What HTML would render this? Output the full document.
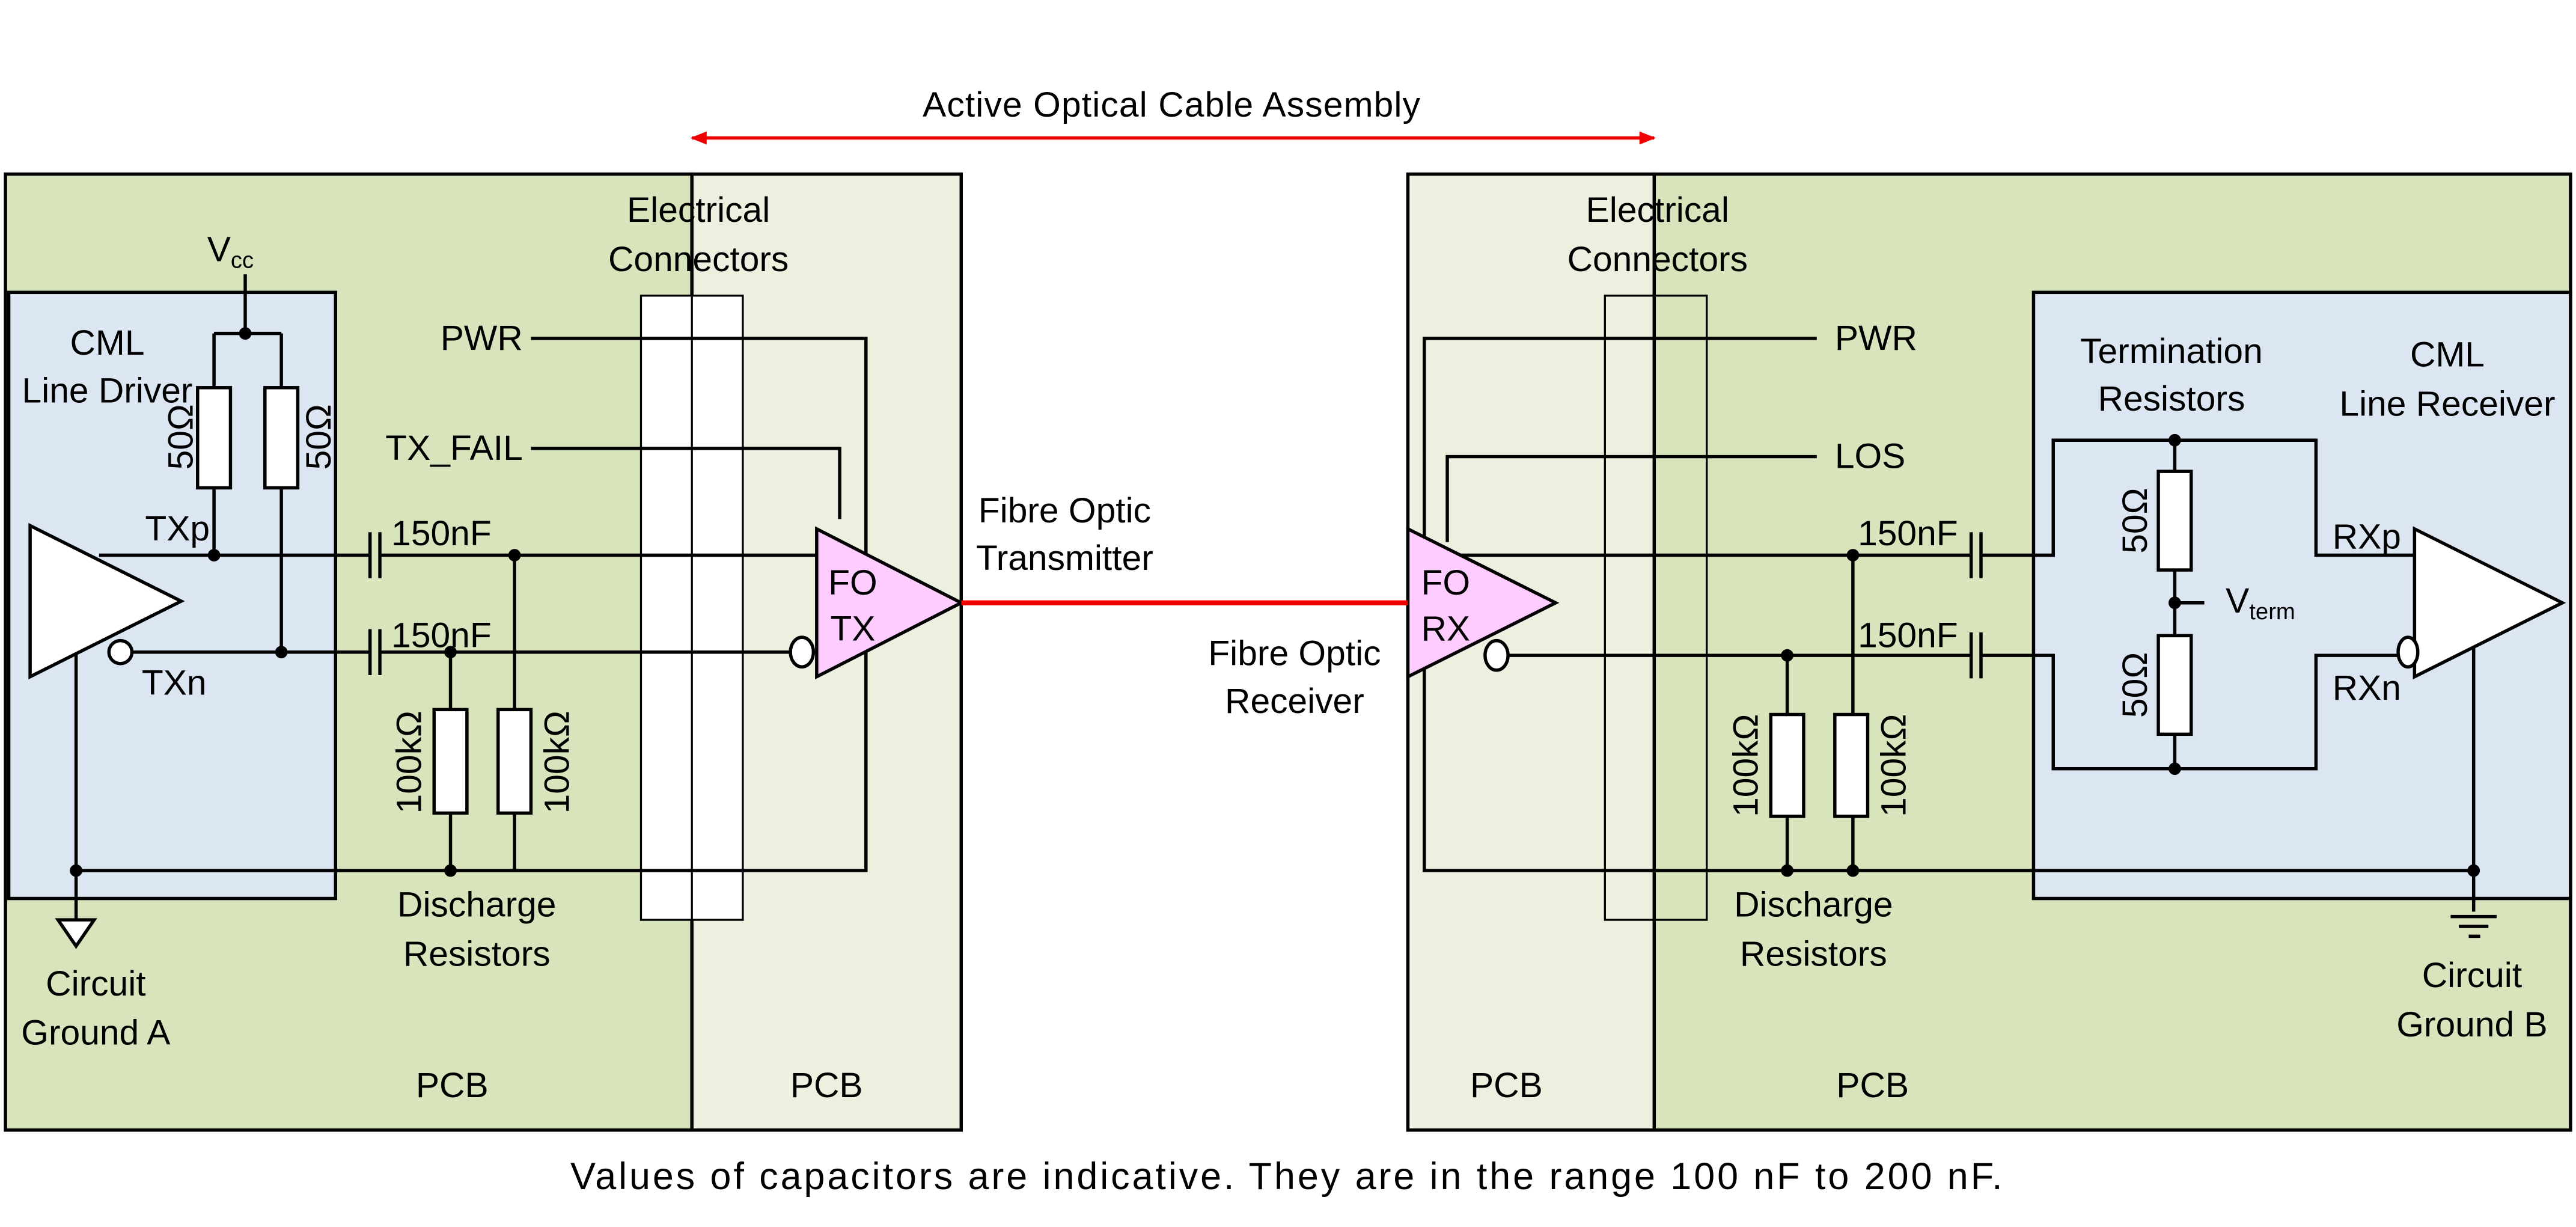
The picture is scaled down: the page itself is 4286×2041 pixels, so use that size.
<!DOCTYPE html>
<html><head><meta charset="utf-8"><style>html,body{margin:0;padding:0;background:#fff}svg{display:block}</style></head><body>
<svg width="4286" height="2041" viewBox="0 0 1568 747" xmlns="http://www.w3.org/2000/svg" font-family="Liberation Sans, sans-serif" font-size="21.5">
<defs>
<marker id="ar" markerWidth="10" markerHeight="8" refX="9" refY="4" orient="auto-start-reverse" markerUnits="userSpaceOnUse"><path d="M0,0 L10,4 L0,8 z" fill="#e00"/></marker>
</defs>
<rect x="3" y="106" width="418" height="582" fill="#d8e4bc" stroke="#000" stroke-width="2"/>
<rect x="421" y="106" width="164" height="582" fill="#ebf1de" stroke="#000" stroke-width="2"/>
<rect x="1007" y="106" width="558" height="582" fill="#d8e4bc" stroke="#000" stroke-width="2"/>
<rect x="857" y="106" width="150" height="582" fill="#ebf1de" stroke="#000" stroke-width="2"/>
<rect x="5" y="178" width="199" height="369" fill="#dce6f2" stroke="#000" stroke-width="2"/>
<rect x="1238" y="178" width="327" height="369" fill="#dce6f2" stroke="#000" stroke-width="2"/>
<line x1="421" y1="84" x2="1007" y2="84" stroke="#e00" stroke-width="2" marker-start="url(#ar)" marker-end="url(#ar)"/>
<text x="713" y="71" text-anchor="middle" textLength="303">Active Optical Cable Assembly</text>
<rect x="390" y="180" width="62" height="380" fill="#fff" stroke="#000" stroke-width="1.2"/>
<line x1="421" y1="180" x2="421" y2="560" stroke="#000" stroke-width="1.2"/>
<rect x="977" y="180" width="62" height="380" fill="none" stroke="#000" stroke-width="1.2"/>
<g stroke="#000" stroke-width="2" fill="none">
<path d="M149 167 V203 M130 203 H171 M130 203 V236 M171 203 V236 M130 297 V338 M171 297 V397"/>
<path d="M60 338 H225 M231 338 H497 M80 397 H225 M231 397 H481"/>
<path d="M225 324 V352 M231 324 V352 M225 383 V411 M231 383 V411"/>
<path d="M313 338 V432 M313 495 V530 M274 397 V432 M274 495 V530"/>
<path d="M46 398 V560 M46 530 H527 V206 H323 M323 273 H511 V316"/>
<path d="M1106 206 H867 V530 H1506 M1106 278 H881 V330"/>
<path d="M870 338 H1200 M1206 338 H1250 V268 H1410 V338 H1470 M918 399 H1200 M1206 399 H1250 V468 H1410 V399 H1462"/>
<path d="M1200 324 V352 M1206 324 V352 M1200 385 V413 M1206 385 V413"/>
<path d="M1128 338 V435 M1128 497 V530 M1088 399 V435 M1088 497 V530"/>
<path d="M1324 268 V287 M1324 347 V387 M1324 447 V468 M1324 367 H1342 M1506 390 V555"/>
<path d="M1492 558 H1520 M1497 564 H1515 M1503 570 H1510"/>
</g>
<g fill="#fff" stroke="#000" stroke-width="2">
<rect x="120" y="236" width="20" height="61"/><rect x="161" y="236" width="20" height="61"/>
<rect x="264" y="432" width="20" height="63"/><rect x="303" y="432" width="20" height="63"/>
<rect x="1078" y="435" width="20" height="62"/><rect x="1117" y="435" width="20" height="62"/>
<rect x="1314" y="287" width="20" height="60"/><rect x="1314" y="387" width="20" height="60"/>
<polygon points="18,320 18,412 110,366"/>
<circle cx="73" cy="397" r="7"/>
<polygon points="35,560 57,560 46,576"/>
<polygon points="497,322 497,412 585,367" fill="#ffccff"/>
<ellipse cx="488" cy="397" rx="7" ry="9"/>
<polygon points="857,322 857,412 947,367" fill="#ffccff"/>
<ellipse cx="911" cy="399" rx="7" ry="9"/>
<polygon points="1470,322 1470,412 1560,367"/>
<ellipse cx="1466" cy="397" rx="6" ry="9"/>
</g>
<line x1="585" y1="367" x2="857" y2="367" stroke="#e00" stroke-width="3"/>
<g fill="#000">
<circle cx="149" cy="203" r="3.8"/><circle cx="130" cy="338" r="3.8"/><circle cx="171" cy="397" r="3.8"/>
<circle cx="313" cy="338" r="3.8"/><circle cx="274" cy="397" r="3.8"/><circle cx="46" cy="530" r="3.8"/><circle cx="274" cy="530" r="3.8"/>
<circle cx="1128" cy="338" r="3.8"/><circle cx="1088" cy="399" r="3.8"/><circle cx="1088" cy="530" r="3.8"/><circle cx="1128" cy="530" r="3.8"/>
<circle cx="1506" cy="530" r="3.8"/><circle cx="1324" cy="268" r="3.8"/><circle cx="1324" cy="367" r="3.8"/><circle cx="1324" cy="468" r="3.8"/>
</g>
<g text-anchor="middle">
<text x="140" y="159">V<tspan font-size="14" dy="4">cc</tspan></text>
<text x="65" y="216">CML</text><text x="65" y="245">Line Driver</text>
<text x="425" y="135">Electrical</text><text x="425" y="165">Connectors</text>
<text x="1009" y="135">Electrical</text><text x="1009" y="165">Connectors</text>
<text x="648" y="318">Fibre Optic</text><text x="648" y="347">Transmitter</text>
<text x="788" y="405">Fibre Optic</text><text x="788" y="434">Receiver</text>
<text x="290" y="558">Discharge</text><text x="290" y="588">Resistors</text>
<text x="1104" y="558">Discharge</text><text x="1104" y="588">Resistors</text>
<text x="58" y="606">Circuit</text><text x="58" y="636">Ground A</text>
<text x="1505" y="601">Circuit</text><text x="1505" y="631">Ground B</text>
<text x="1322" y="221">Termination</text><text x="1322" y="250">Resistors</text>
<text x="1490" y="223">CML</text><text x="1490" y="253">Line Receiver</text>
<text x="275" y="668">PCB</text><text x="503" y="668">PCB</text>
<text x="917" y="668">PCB</text><text x="1140" y="668">PCB</text>
<text x="519" y="362">FO</text><text x="519" y="390">TX</text>
<text x="880" y="362">FO</text><text x="880" y="390">RX</text>
</g>
<text x="347" y="724" font-size="23" textLength="872">Values of capacitors are indicative. They are in the range 100 nF to 200 nF.</text>
<g text-anchor="end">
<text x="318" y="213">PWR</text><text x="318" y="280">TX_FAIL</text>
</g>
<text x="1117" y="213">PWR</text><text x="1117" y="285">LOS</text>
<text x="88" y="329">TXp</text><text x="86" y="423">TXn</text>
<text x="1420" y="334">RXp</text><text x="1420" y="426">RXn</text>
<text x="238" y="332">150nF</text><text x="238" y="394">150nF</text>
<text x="1131" y="332">150nF</text><text x="1131" y="394">150nF</text>
<text x="1355" y="373">V<tspan font-size="14" dy="4">term</tspan></text>
<g text-anchor="middle">
<text transform="translate(117,266) rotate(-90)">50Ω</text>
<text transform="translate(201,266) rotate(-90)">50Ω</text>
<text transform="translate(256,464) rotate(-90)">100kΩ</text>
<text transform="translate(346,464) rotate(-90)">100kΩ</text>
<text transform="translate(1070,466) rotate(-90)">100kΩ</text>
<text transform="translate(1160,466) rotate(-90)">100kΩ</text>
<text transform="translate(1307,317) rotate(-90)">50Ω</text>
<text transform="translate(1307,417) rotate(-90)">50Ω</text>
</g>
</svg>
</body></html>
